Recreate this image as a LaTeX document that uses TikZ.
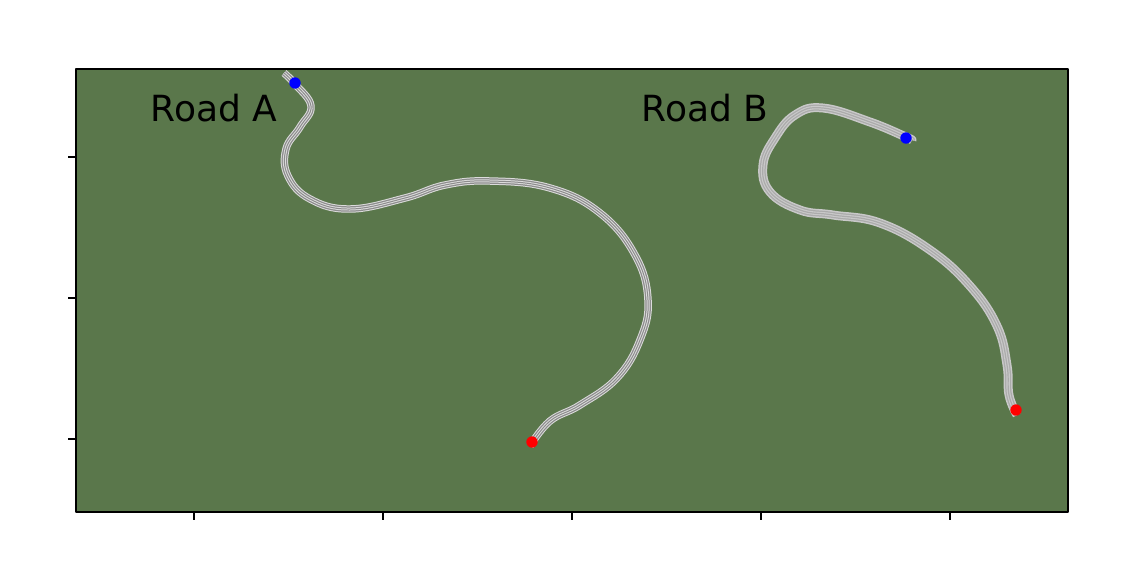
\documentclass[tikz,border=0pt]{standalone}
\usepackage{fontspec}
\setmainfont{DejaVu Sans}
\definecolor{grass}{HTML}{5A774B}
\definecolor{asphaltA}{HTML}{8C8C8C}
\definecolor{lineA}{HTML}{DCDCDC}
\definecolor{asphaltB}{HTML}{ABABAB}
\definecolor{lineB}{HTML}{C9C9C9}
\tikzset{
	roadlbl/.style={anchor=base, font=\fontsize{20.5}{24}\selectfont},
	startdot/.style={circle, fill=blue, inner sep=0pt, minimum size=6.5pt},
	enddot/.style={circle, fill=red, inner sep=0pt, minimum size=6.5pt},
}
\begin{document}
\begin{tikzpicture}[x=0.02cm, y=-0.02cm, line join=round]
	\useasboundingbox (0,0) rectangle (1137,576);
	%Draw field
	\fill[grass] (76,69) rectangle (1068,512);
	%Draw road A
	\foreach \w/\c in {7.5/lineA, 5.5/asphaltA, 3/lineA, 1/asphaltA}{
		\draw[line width=\w*0.567pt, \c] plot[smooth, tension=0.7] coordinates {
			(284,73) (295,84) (311,106) (300,127) (286,149) (288,176)
			(310,199) (350,209) (405,198) (445,185) (490,181) (550,188)
			(600,213) (635,255) (648,300) (640,340) (617,378) (580,405)
			(550,421) (530,446)};
	}
	%Draw road B
	\foreach \w/\c in {9/lineB, 6/asphaltB, 3.5/lineB, 1.2/asphaltB}{
		\draw[line width=\w*0.567pt, \c] plot[smooth, tension=0.7] coordinates {
			(912,140) (906,137) (870,122) (823,108) (795,115) (775,138)
			(763,165) (770,192) (800,210) (833,215) (880,223) (930,250)
			(970,286) (997,326) (1007,365) (1009,395) (1017,415)};
	}
	%Draw start and end points
	\node[startdot] (startA) at (295,83) {};
	\node[enddot]   (endA)   at (532,442) {};
	\node[startdot] (startB) at (906,138) {};
	\node[enddot]   (endB)   at (1016,410) {};
	%Draw labels
	\node[roadlbl] (lblA) at (214,121) {Road A};
	\node[roadlbl] (lblB) at (705,121) {Road B};
	%Draw frame and ticks
	\draw[line width=1.1pt] (76,69) rectangle (1068,512);
	\foreach \y in {157,298,439}
		\draw[line width=0.6pt] (68,\y) -- (76,\y);
	\foreach \x in {194,383,572,761,950}
		\draw[line width=0.6pt] (\x,512) -- (\x,520);
\end{tikzpicture}
\end{document}
